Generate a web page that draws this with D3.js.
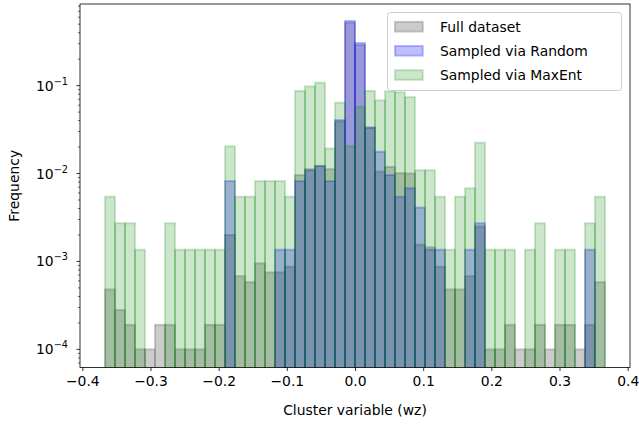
<!DOCTYPE html>
<html>
<head>
<meta charset="utf-8">
<script src="https://cdn.jsdelivr.net/npm/d3@7"></script>
<style>
  html, body { margin: 0; padding: 0; background: #fff; }
  svg { display: block; }
  text { font-family: "DejaVu Sans", sans-serif; fill: #000; }
</style>
</head>
<body>
<svg id="chart" width="639" height="424"></svg>
<script>
// ---- data ----
const binMin = -0.3667;
const binMax = 0.3667;
const nBins = 50;

const seriesNames = ["Full dataset", "Sampled via Random", "Sampled via MaxEnt"];

const fullValues = [
  4.8e-4, 2.8e-4, 1.9e-4, 1.0e-4, 1.0e-4, 1.9e-4, 1.9e-4, 1.0e-4, 1.0e-4, 1.0e-4,
  1.9e-4, 1.9e-4, 2.0e-3, 6.8e-4, 5.8e-4, 9.5e-4, 7.5e-4, 7.5e-4, 8.7e-4, 9.6e-3,
  0.0112, 0.0122, 0.0112, 0.039, 0.52, 0.29, 0.033, 0.0105, 0.0119, 0.0101,
  0.0100, 1.55e-3, 1.45e-3, 8.7e-4, 4.8e-4, 4.8e-4, 6.8e-4, 2.5e-3, 1.0e-4, 1.0e-4,
  1.9e-4, 1.0e-4, 1.0e-4, 1.9e-4, 1.0e-4, 1.9e-4, 1.9e-4, 1.0e-4, 1.9e-4, 5.8e-4
];

const randomValues = [
  0, 0, 0, 0, 0, 0, 0, 0, 0, 0,
  0, 0, 8.2e-3, 0, 0, 0, 0, 1.36e-3, 1.36e-3, 8.2e-3,
  0.0109, 0.0122, 8.2e-3, 0.0406, 0.545, 0.306, 0.0335, 0.0177, 9.6e-3, 5.45e-3,
  6.8e-3, 4.1e-3, 1.36e-3, 1.36e-3, 0, 0, 1.36e-3, 2.72e-3, 0, 0,
  0, 0, 0, 0, 0, 0, 0, 0, 1.36e-3, 0
];

const maxentValues = [
  5.45e-3, 2.72e-3, 2.72e-3, 1.36e-3, 0, 0, 2.72e-3, 1.36e-3, 1.36e-3, 1.36e-3,
  1.36e-3, 1.36e-3, 0.0204, 5.45e-3, 5.45e-3, 8.2e-3, 8.2e-3, 8.2e-3, 5.45e-3, 0.087,
  0.098, 0.108, 0.0193, 0.064, 0.0205, 0.0575, 0.087, 0.068, 0.086, 0.084,
  0.074, 0.0109, 0.0109, 5.45e-3, 1.36e-3, 5.45e-3, 6.8e-3, 0.0225, 1.36e-3, 1.36e-3,
  1.36e-3, 0, 1.36e-3, 2.72e-3, 0, 1.36e-3, 1.36e-3, 0, 2.72e-3, 5.45e-3
];

const xTicks = [-0.4, -0.3, -0.2, -0.1, 0.0, 0.1, 0.2, 0.3, 0.4];
const yTickExponents = [-4, -3, -2, -1];

// ---- layout ----
const svg = d3.select("#chart");
const pL = 80, pR = 630, pT = 4, pB = 367.5;
const x = d3.scaleLinear().domain([-0.4034, 0.4034]).range([pL, pR]);
const y = d3.scaleLog().domain([6.22e-5, 0.848]).range([pB, pT]);

const binWidth = (binMax - binMin) / nBins;
const binEdges = d3.range(nBins + 1).map(i => binMin + i * binWidth);

svg.append("defs").append("clipPath").attr("id", "plotclip")
  .append("rect").attr("x", pL).attr("y", pT).attr("width", pR - pL).attr("height", pB - pT);

const series = [
  { name: seriesNames[0], values: fullValues, color: "#808080", alpha: 0.4 },
  { name: seriesNames[1], values: randomValues, color: "#0000ff", alpha: 0.25 },
  { name: seriesNames[2], values: maxentValues, color: "#008000", alpha: 0.2 }
];

const plot = svg.append("g").attr("clip-path", "url(#plotclip)");
series.forEach(s => {
  const bins = s.values.map((v, i) => ({ v, x0: binEdges[i], x1: binEdges[i + 1] })).filter(d => d.v > 0);
  plot.append("g").selectAll("rect").data(bins).join("rect")
    .attr("x", d => x(d.x0))
    .attr("width", d => x(d.x1) - x(d.x0))
    .attr("y", d => y(d.v))
    .attr("height", d => pB + 20 - y(d.v))
    .attr("fill", s.color).attr("fill-opacity", s.alpha)
    .attr("stroke", s.color).attr("stroke-opacity", s.alpha)
    .attr("stroke-width", 2);
});

// ---- axes ----
const xAxis = d3.axisBottom(x).tickValues(xTicks).tickSize(3.5).tickPadding(5)
  .tickFormat(d => d3.format(".1f")(d).replace("-", "\u2212"));
const gx = svg.append("g").attr("transform", `translate(0,${pB})`).call(xAxis);
gx.select(".domain").remove();
gx.selectAll(".tick line").attr("stroke", "#000").attr("stroke-width", 0.8);
gx.selectAll(".tick text").attr("font-size", "13.9px").attr("font-family", "DejaVu Sans").attr("fill", "#000");

// y axis ticks: major + minor
const minorTicks = [];
for (let e = -5; e <= 0; e++) for (let m = 2; m <= 9; m++) {
  const v = m * Math.pow(10, e);
  if (v >= y.domain()[0] && v <= y.domain()[1]) minorTicks.push(v);
}
const gy = svg.append("g");
gy.selectAll("line.minor").data(minorTicks).join("line").attr("class", "minor")
  .attr("x1", pL).attr("x2", pL - 2).attr("y1", d => y(d)).attr("y2", d => y(d))
  .attr("stroke", "#000").attr("stroke-width", 0.6);
gy.selectAll("line.major").data(yTickExponents).join("line").attr("class", "major")
  .attr("x1", pL).attr("x2", pL - 3.5).attr("y1", d => y(Math.pow(10, d))).attr("y2", d => y(Math.pow(10, d)))
  .attr("stroke", "#000").attr("stroke-width", 0.8);
const yl = gy.selectAll("text").data(yTickExponents).join("text")
  .attr("x", pL - 12).attr("y", d => y(Math.pow(10, d)) + 5)
  .attr("text-anchor", "end").attr("font-size", "13.9px");
yl.append("tspan").text("10");
yl.append("tspan").attr("dy", -6).attr("font-size", "9.7px").text(d => "\u2212" + Math.abs(d));

// frame
svg.append("rect").attr("x", pL).attr("y", pT).attr("width", pR - pL).attr("height", pB - pT)
  .attr("fill", "none").attr("stroke", "#000").attr("stroke-width", 0.8);

// labels
svg.append("text").attr("x", (pL + pR) / 2).attr("y", 415).attr("text-anchor", "middle")
  .attr("font-size", "13.9px").text("Cluster variable (wz)");
svg.append("text").attr("transform", `translate(19,${(pT + pB) / 2}) rotate(-90)`)
  .attr("text-anchor", "middle").attr("font-size", "13.9px").text("Frequency");

// legend
const lg = svg.append("g");
lg.append("rect").attr("x", 387.5).attr("y", 12.5).attr("width", 234).attr("height", 78).attr("rx", 3)
  .attr("fill", "#fff").attr("fill-opacity", 0.8).attr("stroke", "#cccccc").attr("stroke-width", 1);
const rowY = [26.7, 50.8, 75];
series.forEach((s, i) => {
  lg.append("rect").attr("x", 395).attr("y", rowY[i] - 4.85).attr("width", 27.8).attr("height", 9.7)
    .attr("fill", s.color).attr("fill-opacity", s.alpha)
    .attr("stroke", s.color).attr("stroke-opacity", s.alpha).attr("stroke-width", 2);
  lg.append("text").attr("x", 440).attr("y", rowY[i] + 5).attr("font-size", "13.9px").text(s.name);
});
</script>
</body>
</html>
